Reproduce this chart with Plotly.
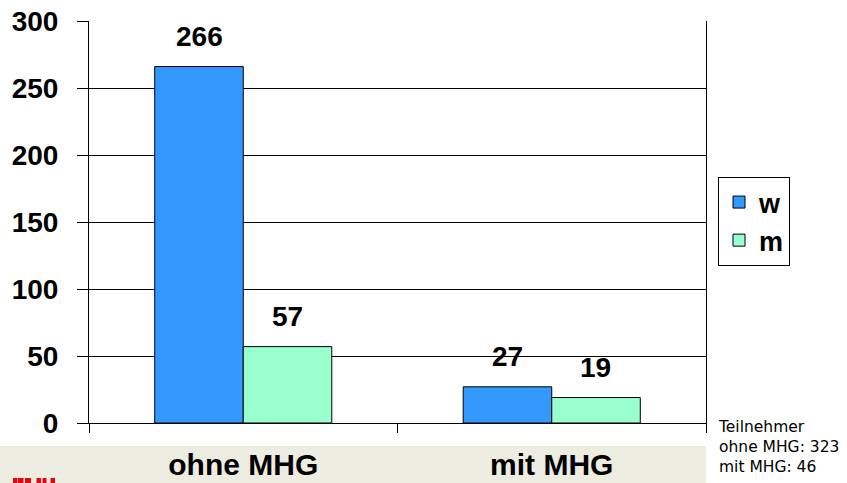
import plotly.graph_objects as go

categories = ["ohne MHG", "mit MHG"]
series_names = ["w", "m"]
values_w = [266, 27]
values_m = [57, 19]
colors = {"w": "#3399FF", "m": "#99FFCC"}
y_ticks = [0, 50, 100, 150, 200, 250, 300]
note_lines = ["Teilnehmer", "ohne MHG: 323", "mit MHG: 46"]

L, R, T, B = 89, 141, 21, 60
W, H = 847, 483
pw, ph = W - L - R, H - T - B

def px_x(x):
    return (x - L) / pw

def px_y(y):
    return (H - B - y) / ph

fig = go.Figure()
for name, vals in zip(series_names, [values_w, values_m]):
    fig.add_trace(go.Bar(
        x=categories, y=vals, name=name,
        marker=dict(color=colors[name], line=dict(color="black", width=1)),
    ))

bold = "Liberation Sans"
fig.update_layout(
    width=W, height=H,
    margin=dict(l=L, r=R, t=T, b=B, autoexpand=False),
    paper_bgcolor="white", plot_bgcolor="white",
    barmode="group", bargap=0.426, bargroupgap=0,
    font=dict(family=bold, color="black"),
    showlegend=True,
    legend=dict(
        x=px_x(718), y=px_y(177), xanchor="left", yanchor="top",
        bordercolor="black", borderwidth=1, bgcolor="white",
        font=dict(family=bold, size=27, weight="bold"),
        tracegroupgap=0,
    ),
    xaxis=dict(
        type="category", tickson="boundaries", ticks="outside", ticklen=9,
        tickcolor="black", showline=True, linecolor="black", linewidth=1,
        showgrid=False, showticklabels=True, ticklabelstandoff=15,
        tickfont=dict(size=30, weight="bold", family=bold), automargin=False,
    ),
    yaxis=dict(
        range=[0, 300], tickvals=y_ticks, ticks="outside", ticklen=11,
        tickcolor="black", showline=True, linecolor="black", linewidth=1,
        mirror=True, showgrid=True, gridcolor="black", gridwidth=1,
        tickfont=dict(size=28, weight="bold", family=bold), zeroline=False,
        automargin=False, ticklabelstandoff=13,
    ),
)

# value labels above bars
half = 44
for name, vals, shift in zip(series_names, [values_w, values_m], [-half, half]):
    for c, v in zip(categories, vals):
        fig.add_annotation(
            x=c, y=v, xref="x", yref="y", text=f"<b>{v}</b>", showarrow=False,
            xshift=shift, yanchor="bottom", yshift=13,
            font=dict(size=28, family=bold, color="black"),
        )

# bottom band
fig.add_shape(type="rect", xref="paper", yref="paper", layer="below",
              x0=px_x(0), x1=px_x(706), y0=px_y(446), y1=px_y(484),
              fillcolor="#ECECE1", line=dict(width=0))

# small red logo marks
for a, b in [(13, 17), (17.5, 23.5), (25, 31), (36.5, 41), (42.5, 46.5), (50.5, 55)]:
    fig.add_shape(type="rect", xref="paper", yref="paper",
                  x0=px_x(a), x1=px_x(b), y0=px_y(484), y1=px_y(478),
                  fillcolor="#E30613", line=dict(width=0))

fig.add_annotation(
    xref="paper", yref="paper", x=px_x(716), y=px_y(416),
    xanchor="left", yanchor="top", align="left", showarrow=False,
    text="<br>".join(note_lines),
    font=dict(family="DejaVu Sans", size=15.5, color="black"),
)

fig.write_html("out.html", config={"displayModeBar": False},
               post_script="document.body.style.margin='0';document.body.style.overflow='hidden';")
